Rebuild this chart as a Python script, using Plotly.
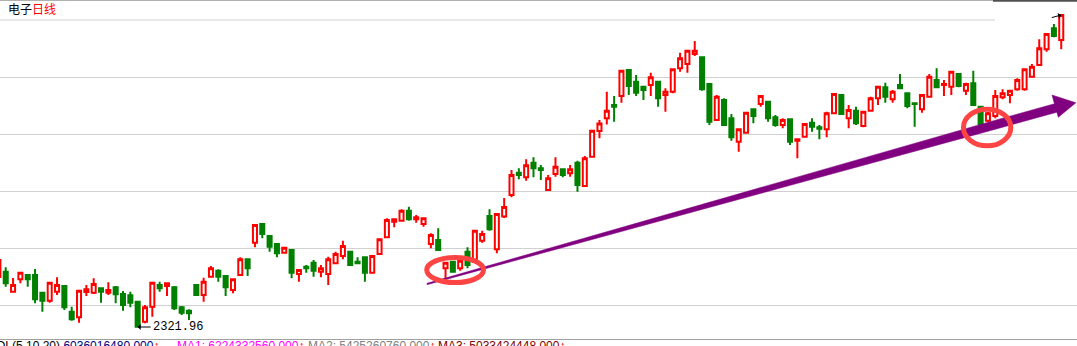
import plotly.graph_objects as go

# ---------------- data (daily candles, electronics index) ----------------
day = list(range(1, 147))

open_ = [
    2522, 2543.2, 2463.2, 2512.8, 2530, 2530, 2459.2, 2427.2, 2463.2, 2486,
    2383.2, 2360.8, 2462, 2459.2, 2476.8, 2459.2, 2480.8, 2454, 2448.8, 2423.2,
    2343.2, 2403.2, 2490, 2486, 2480.8, 2400.8, 2387.2, 2490, 2450, 2523.2,
    2547.2, 2526, 2470, 2530, 2592.8, 2659.2, 2734, 2686, 2654, 2619.2,
    2630, 2534, 2563.2, 2579.2, 2543.2, 2534, 2576.8, 2606, 2623.2, 2583.2,
    2600.8, 2539.2, 2614, 2680.8, 2743.2, 2747.2, 2787.2, 2752.8, 2734, 2654,
    2670, 2556.8, 2583.2, 2556.8, 2623.2, 2583.2, 2667.2, 2766, 2632.8, 2764,
    2850, 2939.2, 2920.8, 2979.2, 2956.8, 2870, 2934, 2952.8, 2936.8, 2979.2,
    2886, 3003.2, 3106, 3156.8, 3210, 3246, 3350, 3303.2, 3283.2, 3290,
    3303.2, 3250, 3263.2, 3356.8, 3374, 3414, 3400.8, 3294, 3150, 3230,
    3156.8, 3063.2, 3099.2, 3192.8, 3214, 3223.2, 3160.8, 3130, 3152.8, 3067.2,
    3083.2, 3139.2, 3120.8, 3112.8, 3176.8, 3250, 3156.8, 3187.2, 3126, 3187.2,
    3236.8, 3280.8, 3232.8, 3290, 3256.8, 3216.8, 3192.8, 3243.2, 3310, 3290,
    3283.2, 3334, 3267.2, 3296.8, 3203.2, 3147.2, 3166, 3240.8, 3250, 3272.8,
    3272.8, 3323.2, 3370, 3432.8, 3516.8, 3470,
]

high = [
    2598, 2560.8, 2518, 2543.2, 2531, 2554, 2460, 2503.2, 2520.8, 2487,
    2403.2, 2470, 2490, 2516.8, 2478, 2500.8, 2486, 2466, 2463.2, 2424,
    2410, 2503.2, 2503.2, 2499.2, 2486, 2406, 2392.8, 2494, 2519.2, 2566,
    2552.8, 2527, 2516.8, 2600.8, 2594, 2734, 2735, 2687, 2655, 2643.2,
    2631, 2552.8, 2570, 2590, 2570, 2603.2, 2623.2, 2667.2, 2624, 2600.8,
    2602, 2606, 2676.8, 2756.8, 2756.8, 2792.8, 2803.2, 2770, 2756.8, 2696.8,
    2716.8, 2583.2, 2584, 2603.2, 2640.8, 2708, 2707.2, 2792.8, 2776.8, 2838,
    2950, 2956.8, 2992.8, 3000.8, 2970, 2930, 3000.8, 2954, 2970, 2987.2,
    3006, 3110, 3150, 3263.2, 3246, 3347.2, 3352.8, 3330, 3284, 3339.2,
    3304, 3276.8, 3352.8, 3419.2, 3427.2, 3466, 3402, 3295, 3250, 3236.8,
    3174, 3112.8, 3183.2, 3196.8, 3250, 3224, 3170, 3156.8, 3154, 3072.8,
    3136.8, 3156.8, 3130, 3183.2, 3256.8, 3251, 3210, 3203.2, 3183.2, 3243.2,
    3286, 3299.2, 3270, 3334, 3258, 3219.2, 3250, 3334, 3356.8, 3310,
    3343.2, 3335, 3299.2, 3347.2, 3204, 3182, 3270, 3272.8, 3270, 3316.8,
    3352.8, 3374, 3472.8, 3494, 3534, 3570,
]

low = [
    2510, 2483.2, 2459.2, 2496.8, 2483.2, 2416.8, 2383.2, 2419.2, 2450, 2390,
    2347.2, 2339.2, 2446, 2454, 2419.2, 2450, 2416.8, 2387.2, 2400.8, 2321.96,
    2336.8, 2363.2, 2463.2, 2446, 2390, 2370, 2350, 2446, 2423.2, 2519.2,
    2503.2, 2446, 2456.8, 2526, 2526, 2640.8, 2676.8, 2623.2, 2600.8, 2616.8,
    2516.8, 2503.2, 2539.2, 2523.2, 2520.8, 2490, 2574, 2592.8, 2566, 2574,
    2503.2, 2538, 2610, 2676.8, 2720.8, 2743.2, 2747.2, 2739.2, 2723.2, 2636.8,
    2629, 2496.8, 2539.2, 2547.2, 2556.8, 2582, 2659.2, 2707.2, 2616.8, 2758,
    2840.8, 2912.8, 2907.2, 2920.8, 2910, 2867.2, 2923.2, 2920.8, 2923.2, 2863.2,
    2883.2, 3000.8, 3076.8, 3132, 3143.2, 3219.2, 3250, 3246, 3230, 3246,
    3203.2, 3183.2, 3256.8, 3343.2, 3339.2, 3406, 3267.2, 3130, 3147.2, 3126,
    3067.2, 3023.2, 3096.8, 3136.8, 3203.2, 3143.2, 3123.2, 3116.8, 3050, 2996.8,
    3080.8, 3103.2, 3072.8, 3080.8, 3174, 3170, 3116.8, 3130, 3120.8, 3183.2,
    3210, 3219.2, 3219.2, 3272.8, 3196.8, 3123.2, 3179.2, 3240.8, 3276.8, 3246,
    3250, 3280.8, 3250, 3206, 3130, 3142, 3156.8, 3232.8, 3216.8, 3267.2,
    3267.2, 3320.8, 3366, 3423.2, 3480.8, 3432.8,
]

close = [
    2590, 2496.8, 2490, 2539.2, 2512.8, 2432.8, 2427.2, 2499.2, 2490, 2400.8,
    2352.8, 2467.2, 2472.8, 2494, 2463.2, 2470, 2452.8, 2410, 2419.2, 2323.2,
    2400.8, 2499.2, 2476.8, 2496.8, 2396.8, 2379.2, 2376.8, 2450, 2503.2, 2556.8,
    2523.2, 2480.8, 2512.8, 2592.8, 2556.8, 2730, 2694, 2643.2, 2616.8, 2639.2,
    2539.2, 2550, 2556.8, 2547.2, 2556.8, 2592.8, 2614, 2646, 2570, 2576.8,
    2539.2, 2606, 2672.8, 2750, 2752.8, 2787.2, 2752.8, 2760.8, 2756.8, 2690,
    2630, 2579.2, 2543.2, 2587.2, 2570, 2707.2, 2694, 2712.8, 2774, 2802,
    2930, 2930, 2968.8, 2956.8, 2950, 2916.8, 2963.2, 2930, 2952.8, 2890,
    2996.8, 3107.2, 3136, 3187.2, 3203.2, 3347.2, 3286, 3259.2, 3270, 3320.8,
    3236.8, 3263.2, 3352.8, 3396.8, 3427.2, 3427.2, 3272.8, 3143.2, 3243.2, 3130,
    3080.8, 3112.8, 3179.2, 3166, 3246, 3156.8, 3130, 3150, 3063.2, 3072.8,
    3134, 3123.2, 3115.2, 3176.8, 3254, 3174, 3190, 3136.8, 3183.2, 3236.8,
    3283.2, 3243.2, 3263.2, 3276.8, 3206, 3214, 3250, 3323.2, 3280.8, 3294,
    3343.2, 3286, 3294, 3210, 3134, 3176.8, 3246, 3256.8, 3267.2, 3310,
    3352.8, 3363.2, 3436.8, 3494, 3486, 3570,
]

assert len(open_) == len(high) == len(low) == len(close) == len(day)

low_day = 20
low_label = "2321.96"
high_day = 146

grid_levels = [2410, 2638, 2866, 3094, 3322]
top_grid_level = 3550

vol_label = "VOL(5,10,20)"
vol_values = ["6036016480.000", "6224332560.000", "5425260760.000", "5033424448.000"]

# trend arrow (day index, price) and the two highlight ellipses
arrow_pts = [(59.47, 2496.6), (136.28, 3143.2), (145.07, 3215), (144.74, 3250),
             (148.0, 3219), (145.6, 3160.8), (145.4, 3181), (136.28, 3107.2),
             (59.47, 2491.4)]
ellipses = [(59.44, 67.18, 2500, 2600), (132.66, 139.12, 3046.8, 3193.2)]

W, H = 1077, 346
PLOT_H = 339

fig = go.Figure(go.Candlestick(
    x=day, open=open_, high=high, low=low, close=close,
    increasing=dict(line=dict(color="#ff0000", width=2), fillcolor="#ffffff"),
    decreasing=dict(line=dict(color="#008000", width=2), fillcolor="#008000"),
    whiskerwidth=0, hoverinfo="skip", showlegend=False,
))

shapes = []
# top grid line (stops short on the right)
shapes.append(dict(type="line", xref="paper", yref="y", x0=0, x1=995 / W,
                   y0=top_grid_level, y1=top_grid_level,
                   line=dict(color="#d0d0d0", width=1), layer="below"))
# trend arrow
path = "M " + " L ".join(f"{x},{y}" for x, y in arrow_pts) + " Z"
shapes.append(dict(type="path", xref="x", yref="y", path=path,
                   fillcolor="#800080", line=dict(color="#800080", width=0.5)))
for x0, x1, y0, y1 in ellipses:
    shapes.append(dict(type="circle", xref="x", yref="y", x0=x0, x1=x1, y0=y0, y1=y1,
                       line=dict(color="#ff4444", width=5)))
# frame lines
shapes.append(dict(type="line", xref="paper", yref="paper", x0=0, x1=1,
                   y0=1 - 0.5 / PLOT_H, y1=1 - 0.5 / PLOT_H,
                   line=dict(color="#b0b0b0", width=1)))
shapes.append(dict(type="rect", xref="paper", yref="paper", x0=993 / W, x1=1,
                   y0=1 - 1.8 / PLOT_H, y1=1, fillcolor="#505050", line=dict(width=0)))
shapes.append(dict(type="line", xref="paper", yref="paper", x0=0, x1=1,
                   y0=-0.5 / PLOT_H, y1=-0.5 / PLOT_H,
                   line=dict(color="#a0a0a0", width=1)))

annotations = [
    dict(xref="paper", yref="paper", x=6 / W, y=1 - 8.5 / PLOT_H, xanchor="left",
         yanchor="middle", showarrow=False,
         text="电子<span style='color:#ff0000'>日线</span>",
         font=dict(family="Noto Sans CJK SC", size=12, color="#000000")),
    dict(x=low_day, y=low[low_day - 1], text=low_label, showarrow=True,
         ax=13, ay=0, xanchor="left", arrowhead=1, arrowsize=1, arrowwidth=1,
         arrowcolor="#000000", font=dict(family="Liberation Mono", size=12, color="#000000")),
    dict(x=high_day, y=high[high_day - 1], text="", showarrow=True, ax=-11, ay=3,
         arrowhead=1, arrowsize=1, arrowwidth=1, arrowcolor="#000000"),
]

ytxt = 1 - 337 / PLOT_H
vol_font = dict(family="Liberation Sans", size=12)
segments = [
    (-14, f"{vol_label} <span style='color:#000080'>{vol_values[0]}</span><span style='color:#ff0000'>↑</span>"),
    (175, f"<span style='color:#ff00ff'>MA1: {vol_values[1]}</span><span style='color:#ff0000'>↑</span>"),
    (306, f"<span style='color:#808080'>MA2: {vol_values[2]}</span><span style='color:#ff0000'>↑</span>"),
    (436, f"<span style='color:#800000'>MA3: {vol_values[3]}</span><span style='color:#ff0000'>↑</span>"),
]
for xp, txt in segments:
    annotations.append(dict(xref="paper", yref="paper", x=xp / W, y=ytxt, xanchor="left",
                            yanchor="top", showarrow=False, text=txt,
                            font=dict(color="#000000", **vol_font)))

fig.update_layout(
    width=W, height=H,
    margin=dict(l=0, r=0, t=0, b=H - PLOT_H),
    paper_bgcolor="#ffffff", plot_bgcolor="#ffffff",
    boxgap=0.45, boxgroupgap=0,
    xaxis=dict(range=[1.218, 148.15], showgrid=False, zeroline=False,
               showticklabels=False, ticks="", rangeslider=dict(visible=False),
               fixedrange=True),
    yaxis=dict(range=[2274, 3630], tickvals=grid_levels, showgrid=True,
               gridcolor="#d0d0d0", gridwidth=1, zeroline=False,
               showticklabels=False, ticks="", fixedrange=True),
    shapes=shapes, annotations=annotations,
    showlegend=False,
)

fig.write_html("out.html")
